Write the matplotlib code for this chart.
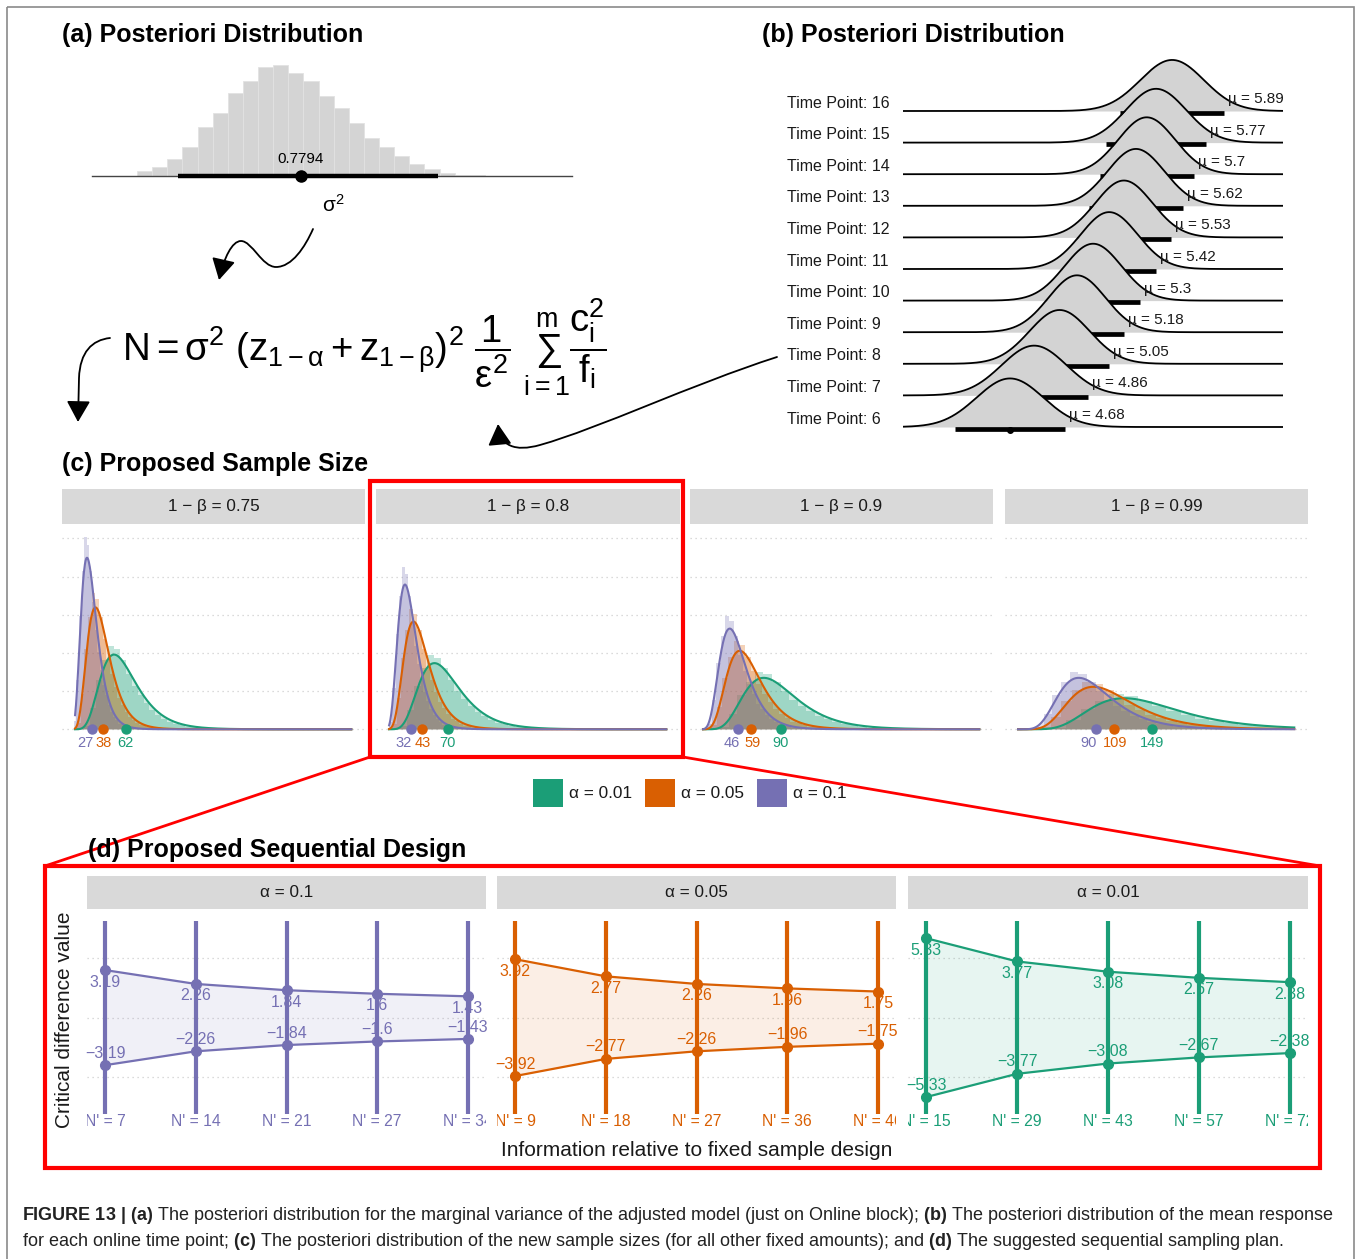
import numpy as np
import matplotlib
matplotlib.use('Agg')
import matplotlib.pyplot as plt
from matplotlib.patches import Rectangle, FancyArrowPatch
from matplotlib.path import Path
from matplotlib import font_manager as fm

W, H = 1358, 1259

# ---------------- data ----------------
# (a) posterior of sigma^2: histogram counts
sig_bin_start = 0.455
sig_bin_width = 0.03
sig_counts = [15, 28, 50, 88, 146, 190, 250, 286, 326, 333, 310, 286,
              240, 203, 160, 115, 88, 60, 35, 21, 10, 4, 2]
sig_median = 0.7794
sig_interval = [0.536, 1.052]
sig_range = [0.366, 1.317]

# (b) posterior of the mean response for each time point
time_points = [6, 7, 8, 9, 10, 11, 12, 13, 14, 15, 16]
tp_mu = [4.68, 4.86, 5.05, 5.18, 5.3, 5.42, 5.53, 5.62, 5.7, 5.77, 5.89]
tp_half = [0.41, 0.40, 0.37, 0.35, 0.35, 0.35, 0.35, 0.35, 0.35, 0.37, 0.39]

# (c) proposed sample sizes
powers = ['0.75', '0.8', '0.9', '0.99']
alphas = ['0.01', '0.05', '0.1']
n_mean = {'0.01': [62, 70, 90, 149],
          '0.05': [38, 43, 59, 109],
          '0.1': [27, 32, 46, 90]}
n_sdlog = 0.38
n_span = [9.3, 297]
# histogram of N / mean(N), density in those units
r_edges = [0.3, 0.4, 0.5, 0.6, 0.7, 0.8, 0.9, 1.0, 1.1, 1.2, 1.3, 1.4,
           1.5, 1.6, 1.7, 1.8, 1.9, 2.0, 2.2, 2.4, 2.8]
r_dens = [0.06, 0.35, 0.80, 1.12, 1.36, 1.30, 1.12, 0.90, 0.70, 0.55,
          0.42, 0.31, 0.24, 0.17, 0.12, 0.09, 0.065, 0.04, 0.02, 0.008]

# (d) proposed sequential design
info = [0.2, 0.4, 0.6, 0.8, 1.0]
d_alphas = ['0.1', '0.05', '0.01']
crit = {'0.1': [3.19, 2.26, 1.84, 1.6, 1.43],
        '0.05': [3.92, 2.77, 2.26, 1.96, 1.75],
        '0.01': [5.33, 3.77, 3.08, 2.67, 2.38]}
n_prime = {'0.1': [7, 14, 21, 27, 34],
           '0.05': [9, 18, 27, 36, 46],
           '0.01': [15, 29, 43, 57, 72]}

caption1 = (r"$\mathbf{FIGURE\ 13\ |\ (a)}$ The posteriori distribution for the marginal "
            r"variance of the adjusted model (just on Online block); $\mathbf{(b)}$ The "
            r"posteriori distribution of the mean response")
caption2 = (r"for each online time point; $\mathbf{(c)}$ The posteriori distribution of the new "
            r"sample sizes (for all other fixed amounts); and $\mathbf{(d)}$ The suggested "
            r"sequential sampling plan.")

# ---------------- style ----------------
GREEN, ORANGE, PURPLE = '#1B9E77', '#D95F02', '#7570B3'
col = {'0.01': GREEN, '0.05': ORANGE, '0.1': PURPLE}
STRIP = '#D9D9D9'
TXT = '#1A1A1A'
GRID = '#CFCFCF'

names = {f.name for f in fm.fontManager.ttflist}
cap_family = 'Liberation Sans Narrow' if 'Liberation Sans Narrow' in names else 'Liberation Sans'

plt.rcParams['font.family'] = ['Liberation Sans', 'DejaVu Sans']
plt.rcParams['mathtext.fontset'] = 'custom'
plt.rcParams['mathtext.rm'] = 'Liberation Sans'
plt.rcParams['mathtext.it'] = 'Liberation Sans:italic'
plt.rcParams['mathtext.bf'] = cap_family + ':bold'
plt.rcParams['mathtext.default'] = 'regular'

fig = plt.figure(figsize=(W / 100, H / 100), dpi=100)
renderer = fig.canvas.get_renderer()


def px_axes(x0, y0, x1, y1, z=1):
    ax = fig.add_axes([x0 / W, 1 - y1 / H, (x1 - x0) / W, (y1 - y0) / H])
    ax.set_zorder(z)
    return ax


def lims(p0, p1, va, pa, vb, pb):
    s = (vb - va) / (pb - pa)
    return va + (p0 - pa) * s, va + (p1 - pa) * s


def strip(x0, y0, x1, y1, label):
    ax = px_axes(x0, y0, x1, y1)
    ax.set_facecolor(STRIP)
    ax.set_xticks([])
    ax.set_yticks([])
    for s in ax.spines.values():
        s.set_visible(False)
    ax.text(0.5, 0.5, label, ha='center', va='center', fontsize=12.3,
            color=TXT, transform=ax.transAxes)


def bare(ax):
    ax.set_xticks([])
    ax.set_yticks([])
    for s in ax.spines.values():
        s.set_visible(False)
    ax.patch.set_alpha(0)


# overlay in pixel coordinates for titles, arrows, boxes
ov = fig.add_axes([0, 0, 1, 1])
ov.set_xlim(0, W)
ov.set_ylim(H, 0)
ov.axis('off')
ov.set_zorder(10)
ov.patch.set_alpha(0)

ov.add_patch(Rectangle((7, 7), 1347, 1262, fill=False, ec='#8A8A8A', lw=1.2))

for x, y, t in [(62, 35, '(a) Posteriori Distribution'),
                (762, 35, '(b) Posteriori Distribution'),
                (62, 464, '(c) Proposed Sample Size'),
                (88, 850, '(d) Proposed Sequential Design')]:
    ov.text(x, y, t, fontsize=18, fontweight='bold', ha='left', va='center', color='black')

# ---------------- (a) ----------------
axA = px_axes(80, 50, 600, 200)
edges = sig_bin_start + sig_bin_width * np.arange(len(sig_counts) + 1)
axA.set_xlim(*lims(80, 600, edges[0], 137, edges[-1], 485))
axA.set_ylim(*lims(200, 50, 0, 176, max(sig_counts), 65))
axA.bar(edges[:-1], sig_counts, width=sig_bin_width, align='edge',
        color='#D4D4D4', edgecolor='#E2E2E2', linewidth=0.6)
axA.plot(sig_range, [0, 0], color='#444444', lw=1.0)
axA.plot(sig_interval, [0, 0], color='black', lw=3.2, solid_capstyle='butt')
axA.plot([sig_median], [0], 'o', color='black', ms=8)
axA.annotate(f'{sig_median}', (sig_median, 0), xytext=(0, 12),
             textcoords='offset points', ha='center', va='center', fontsize=11)
bare(axA)
ov.text(333, 205, r'$\sigma^2$', fontsize=15, ha='center', va='center')

# formula
formula = ov.text(122, 347,
                  r'$N = \sigma^2\ (z_{1-\alpha} + z_{1-\beta})^2\ \dfrac{1}{\epsilon^2}\ '
                  r'\sum_{i=1}^{m}\dfrac{c_i^2}{f_i}$',
                  fontsize=30, ha='left', va='center')
wf = formula.get_window_extent(renderer).width
formula.set_fontsize(30 * 484 / wf)

# arrows
def arrow(verts, codes, ms=26):
    p = FancyArrowPatch(path=Path(verts, codes),
                        arrowstyle='-|>,head_length=0.5,head_width=0.28',
                        mutation_scale=ms, lw=1.3, color='black')
    ov.add_patch(p)

C4 = Path.CURVE4
arrow([(313, 229), (305, 247), (292, 267), (276, 267),
       (262, 267), (252, 241), (241, 241),
       (232, 241), (224, 258), (219, 280)],
      [Path.MOVETO, C4, C4, C4, C4, C4, C4, C4, C4, C4])
arrow([(110, 338), (92, 340), (80, 352), (79, 378), (78, 422)],
      [Path.MOVETO, C4, C4, C4, Path.LINETO])
arrow([(777, 357), (690, 385), (600, 428), (540, 445),
       (515, 452), (500, 446), (498, 424)],
      [Path.MOVETO, C4, C4, C4, C4, C4, C4])

# ---------------- (b) ----------------
axB = px_axes(903, 40, 1283, 440)
xb0, xb1 = lims(903, 1283, tp_mu[0], 1010, tp_mu[0] + 1, 1144)
axB.set_xlim(xb0, xb1)
axB.set_ylim(*lims(440, 40, 0, 427, 10, 111))
xs = np.linspace(xb0, xb1, 700)
x_lab = lims(787, 787, tp_mu[0], 1010, tp_mu[0] + 1, 1144)[0]
for i in reversed(range(len(time_points))):
    mu, half = tp_mu[i], tp_half[i]
    sd = half / 1.645
    dens = np.exp(-0.5 * ((xs - mu) / sd) ** 2) / (sd * np.sqrt(2 * np.pi))
    yy = i + 0.96 * dens
    z = 20 - i
    axB.fill_between(xs, i, yy, color='#D3D3D3', lw=0, zorder=z)
    axB.plot(xs, yy, color='black', lw=1.3, zorder=z + 0.1)
    axB.plot([mu - half, mu + half], [i - 0.06, i - 0.06], color='black', lw=3.4,
             solid_capstyle='butt', zorder=z + 0.2)
    axB.plot([mu], [i - 0.1], 'o', color='black', ms=4, zorder=z + 0.15)
    axB.text(mu + half + 0.03, i + 0.38, f'\u00b5 = {mu:g}', fontsize=11,
             ha='left', va='center', zorder=60, color=TXT)
    axB.text(x_lab, i + 0.25, f'Time Point: {time_points[i]}', fontsize=11.5,
             ha='left', va='center', color=TXT, clip_on=False)
bare(axB)

# ---------------- (c) ----------------
c_x = [(62, 365), (376, 680), (690, 993), (1005, 1308)]
nx = np.linspace(n_span[0], n_span[1], 900)
re = np.array(r_edges)
rd = np.array(r_dens)
for k, pw in enumerate(powers):
    x0, x1 = c_x[k]
    strip(x0, 489, x1, 524, f'1 \u2212 \u03b2 = {pw}')
    ax = px_axes(x0, 525, x1, 739.6)
    ax.set_xlim(-4.3, 311.3)
    ax.set_ylim(-0.0027, 0.0535)
    for gy in np.arange(0, 0.051, 0.01):
        ax.axhline(gy, color=GRID, lw=0.9, ls=(0, (1, 3)), zorder=0)
    for a in alphas:
        m = n_mean[a][k]
        e = np.clip(m * re, None, n_span[1])
        ax.bar(e[:-1], rd / m, width=np.diff(e), align='edge', color=col[a],
               alpha=0.28, lw=0, zorder=1)
        mlog = np.log(m) - n_sdlog ** 2 / 2
        pdf = np.exp(-(np.log(nx) - mlog) ** 2 / (2 * n_sdlog ** 2)) / (nx * n_sdlog * np.sqrt(2 * np.pi))
        ax.fill_between(nx, 0, pdf, color=col[a], alpha=0.2, lw=0, zorder=2)
        ax.plot(nx, pdf, color=col[a], lw=1.5, zorder=3)
    for a in alphas:
        m = n_mean[a][k]
        ax.plot([m], [0], 'o', color=col[a], ms=6.5, zorder=5, clip_on=False)
        dx = -5 if a == '0.1' else (1 if a == '0.05' else 0)
        ax.annotate(str(m), (m, 0), xytext=(dx, -10), textcoords='offset points',
                    ha='center', va='center', fontsize=10.5, color=col[a],
                    annotation_clip=False)
    bare(ax)

# legend
for (x, t, a) in [(533, '\u03b1 = 0.01', '0.01'), (645, '\u03b1 = 0.05', '0.05'),
                  (757, '\u03b1 = 0.1', '0.1')]:
    ov.add_patch(Rectangle((x, 779), 30, 28, color=col[a], lw=0))
    ov.text(x + 36, 793, t, fontsize=12.4, ha='left', va='center', color=TXT)

# ---------------- (d) ----------------
d_x = [(87, 486), (497, 896), (908, 1308)]
for k, a in enumerate(d_alphas):
    x0, x1 = d_x[k]
    strip(x0, 876, x1, 909, f'\u03b1 = {a}')
    ax = px_axes(x0, 910.7, x1, 1132)
    ax.set_xlim(0.16, 1.04)
    ax.set_ylim(-7.675, 7.175)
    for gy in [-4, 0, 4]:
        ax.axhline(gy, color=GRID, lw=0.9, ls=(0, (1, 3)), zorder=0)
    c = col[a]
    v = np.array(crit[a])
    ax.fill_between(info, -v, v, color=c, alpha=0.1, lw=0, zorder=1)
    ax.plot(info, v, color=c, lw=1.6, zorder=2)
    ax.plot(info, -v, color=c, lw=1.6, zorder=2)
    ax.plot([info[0], info[0]], [-v[0], v[0]], color=c, lw=1.2, zorder=2)
    ax.plot([info[-1], info[-1]], [-v[-1], v[-1]], color=c, lw=1.2, zorder=2)
    ax.vlines(info, -6.5, 6.5, color=c, lw=3, zorder=3)
    ax.plot(info, v, 'o', color=c, ms=7, zorder=4)
    ax.plot(info, -v, 'o', color=c, ms=7, zorder=4)
    for xi, vi, npr in zip(info, v, n_prime[a]):
        ax.text(xi, vi - 0.8, f'{vi:g}', ha='center', va='center', fontsize=11.5,
                color=c, zorder=5)
        ax.text(xi, -vi + 0.8, f'\u2212{vi:g}', ha='center', va='center', fontsize=11.5,
                color=c, zorder=5)
        ax.text(xi, -7.0, f"N' = {npr}", ha='center', va='center', fontsize=11.3,
                color=c, zorder=5, clip_on=True)
    bare(ax)

ov.text(65, 1020, 'Critical difference value', rotation=90, fontsize=15,
        ha='center', va='center', color=TXT)
ov.text(697, 1151, 'Information relative to fixed sample design', fontsize=15,
        ha='center', va='center', color=TXT)

# red highlight boxes
RED = '#FF0000'
ov.add_patch(Rectangle((370, 481), 313, 276, fill=False, ec=RED, lw=3))
ov.add_patch(Rectangle((45, 866), 1275, 302, fill=False, ec=RED, lw=3))
ov.plot([370, 45], [757, 866], color=RED, lw=2)
ov.plot([683, 1320], [757, 866], color=RED, lw=2)

# caption
t1 = ov.text(22, 1215, caption1, fontsize=12, family=cap_family, ha='left', va='center', color='#222222')
t2 = ov.text(22, 1241, caption2, fontsize=12, family=cap_family, ha='left', va='center', color='#222222')
cs = 12 * 1312 / t1.get_window_extent(renderer).width
t1.set_fontsize(cs)
t2.set_fontsize(cs)

fig.savefig('out.png', dpi=100)
